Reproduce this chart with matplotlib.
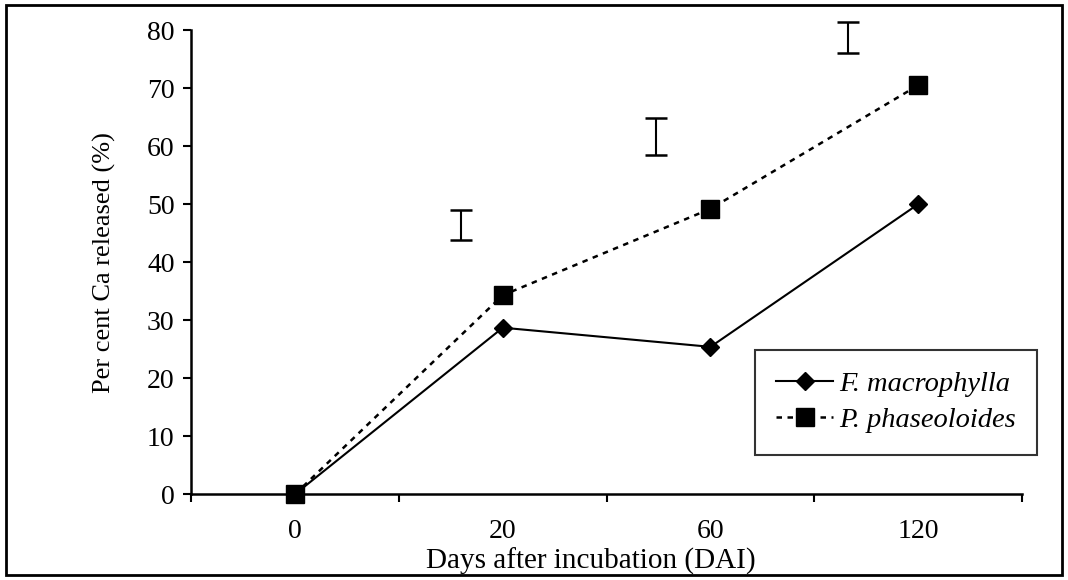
import matplotlib.pyplot as plt
from matplotlib.patches import Rectangle

plt.rcParams['font.family'] = ['Liberation Serif', 'DejaVu Serif']

days = ['0', '20', '60', '120']
f_macrophylla = [0, 28.7, 25.4, 50.0]
p_phaseoloides = [0, 34.3, 49.2, 70.5]
# LSD bars: x position (category units), low, high
lsd_x = [0.8, 1.74, 2.66]
lsd_lo = [43.8, 58.4, 76.0]
lsd_hi = [49.0, 64.8, 81.4]

fig = plt.figure(figsize=(10.68, 5.8), dpi=100)
ax = fig.add_axes([0.179, 0.148, 0.778, 0.800])

x = list(range(len(days)))
ax.plot(x, f_macrophylla, '-', color='black', lw=1.5, marker='D', ms=9,
        label='F. macrophylla', clip_on=False)
ax.plot(x, p_phaseoloides, color='black', lw=1.8, ls=(0, (2.2, 2.2)),
        marker='s', ms=13, label='P. phaseoloides', clip_on=False)

mid = [(a + b) / 2 for a, b in zip(lsd_lo, lsd_hi)]
err = [(b - a) / 2 for a, b in zip(lsd_lo, lsd_hi)]
eb = ax.errorbar(lsd_x, mid, yerr=err, fmt='none', ecolor='black', elinewidth=1.5,
                 capsize=8, capthick=1.8)
for art in eb.lines[1] + eb.lines[2]:
    art.set_clip_on(False)

ax.set_xlim(-0.5, 3.5)
ax.set_ylim(0, 80)
ax.set_yticks(range(0, 81, 10))
ax.set_xticks(x)
ax.set_xticklabels(days)
ax.set_xticks([-0.5, 0.5, 1.5, 2.5, 3.5], minor=True)
ax.tick_params(axis='x', which='major', length=0, pad=18, labelsize=20)
ax.tick_params(axis='x', which='minor', direction='out', length=6, width=1.5)
ax.tick_params(axis='y', direction='out', length=6, width=1.5, labelsize=20, pad=6)
for s in ['top', 'right']:
    ax.spines[s].set_visible(False)
for s in ['left', 'bottom']:
    ax.spines[s].set_linewidth(1.8)

ax.set_ylabel('Per cent Ca released (%)', fontsize=19, labelpad=22)
fig.text(591 / 1068, 1 - 561 / 580, 'Days after incubation (DAI)', fontsize=21,
         ha='center', va='center')

leg = ax.legend(loc='upper left', bbox_to_anchor=(755 / 1068, 1 - 350 / 580),
                bbox_transform=fig.transFigure, fancybox=False, frameon=True,
                edgecolor='black', prop={'style': 'italic', 'size': 20.5},
                handlelength=2.0, handletextpad=0.2, borderpad=0.75,
                labelspacing=0.35, borderaxespad=0)
leg.get_frame().set_linewidth(1.5)

fig.patches.append(Rectangle((6 / 1068, 5 / 580), 1056 / 1068, 570 / 580,
                             transform=fig.transFigure, fill=False,
                             edgecolor='black', lw=2))

fig.savefig('out.png', dpi=100)
